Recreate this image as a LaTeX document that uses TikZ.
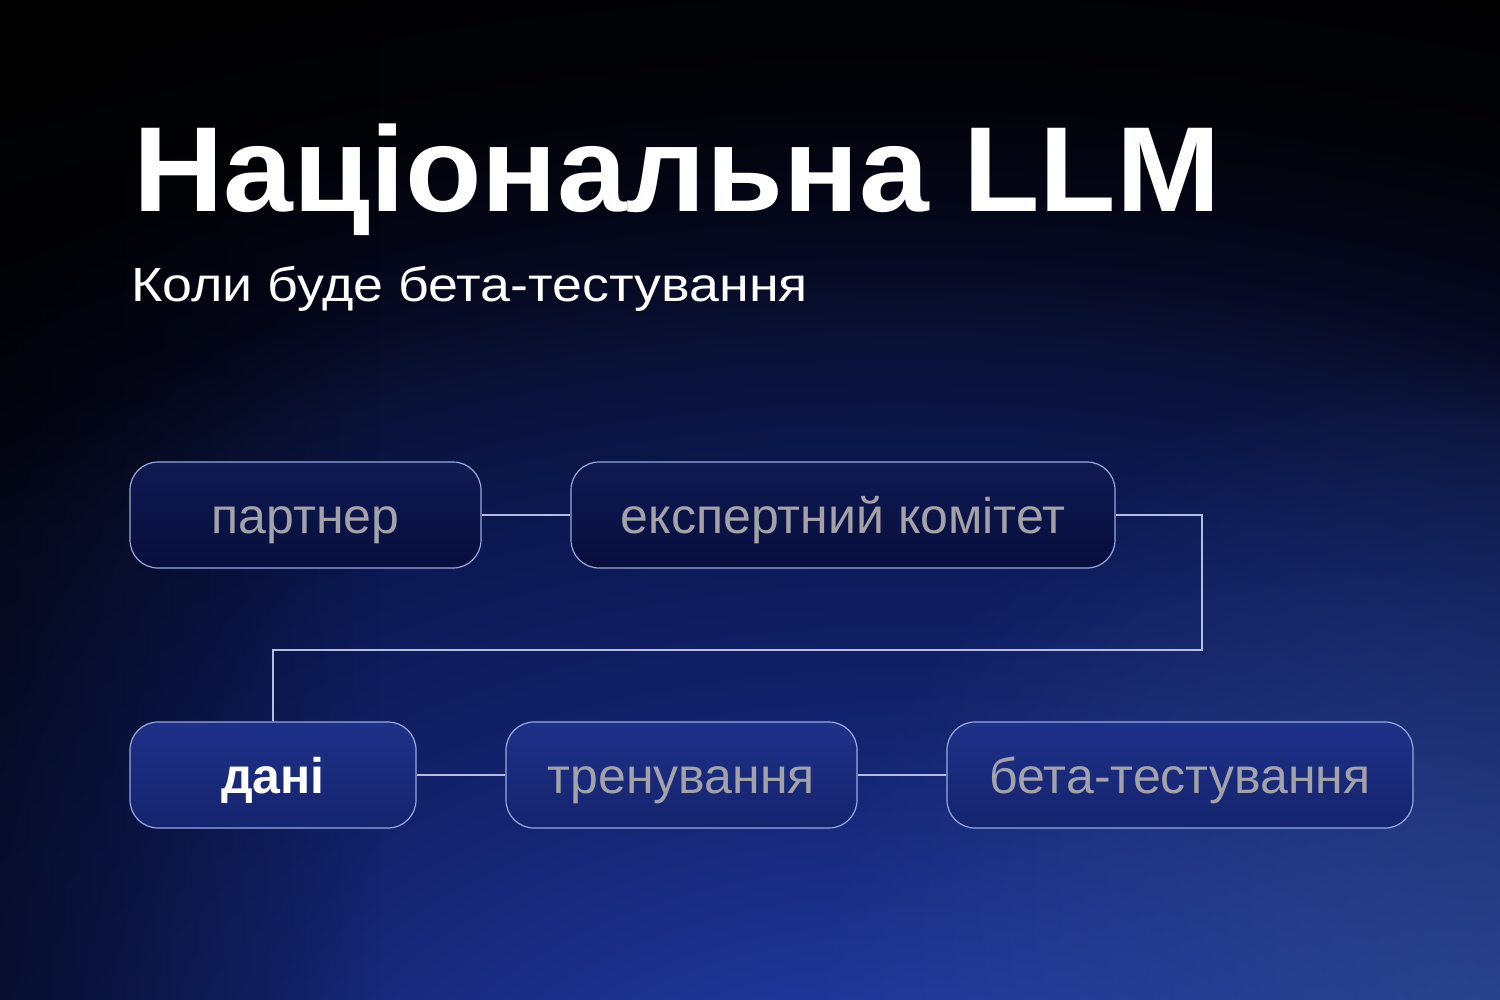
\documentclass[tikz,border=0pt]{standalone}
\usepackage{fontspec}
\setmainfont{Liberation Sans}
\newfontfamily\titlefont[FakeStretch=1.035]{Liberation Sans}
\newfontfamily\subfont[FakeStretch=1.12]{Liberation Sans}
\usetikzlibrary{fadings}
\definecolor{bgA}{HTML}{2A48A8}
\definecolor{bgB}{HTML}{1E3698}
\definecolor{bgC}{HTML}{142470}
\definecolor{bgD}{HTML}{0C1852}
\definecolor{bgE}{HTML}{0A1238}
\definecolor{bgF}{HTML}{05081E}
\definecolor{bgG}{HTML}{020308}
\definecolor{glow}{HTML}{3A5AA0}
\definecolor{boxline}{HTML}{9AA8E0}
\definecolor{linkline}{HTML}{B4BCE4}
\definecolor{boxtext}{HTML}{A2A2A8}
\definecolor{topfillA}{HTML}{101A52}
\definecolor{topfillB}{HTML}{070E3C}
\definecolor{botfillA}{HTML}{1F3088}
\definecolor{botfillB}{HTML}{14246E}
\pgfdeclareradialshading{bgshade}{\pgfpoint{0bp}{0bp}}{color(0bp)=(bgA); color(200bp)=(bgB); color(450bp)=(bgC); color(700bp)=(bgD); color(850bp)=(bgE); color(950bp)=(bgF); color(1100bp)=(bgG); color(1300bp)=(black)}
\tikzfading[name=glowfade, inner color=transparent!0, outer color=transparent!100]
\tikzfading[name=leftfade, left color=transparent!0, right color=transparent!100]
\tikzset{
  stagebox/.style={draw=boxline, line width=1.2pt, rounded corners=28pt,
    minimum height=106pt, inner sep=0pt, text height=36pt, text depth=0pt,
    text=boxtext, font=\fontsize{50}{56}\selectfont},
  topbox/.style={stagebox, top color=topfillA, bottom color=topfillB},
  botbox/.style={stagebox, top color=botfillA, bottom color=botfillB},
  link/.style={draw=linkline, line width=1.4pt}
}
\begin{document}
\begin{tikzpicture}[x=1pt,y=-1pt]
\useasboundingbox (0,0) rectangle (1500,1000);
\begin{scope}
\clip (0,0) rectangle (1500,1000);
\fill[black] (0,0) rectangle (1500,1000);
\begin{scope}[shift={(900,1200)}, xscale=1.6]
\node[inner sep=0pt, transform shape] (bgglow) at (0,0) {\pgfuseshading{bgshade}};
\end{scope}
\fill[glow, path fading=glowfade, fill opacity=0.6] (1500,1050) circle (700);
\fill[black, path fading=leftfade, fill opacity=0.5] (0,0) rectangle (380,1000);
\end{scope}

\node[anchor=base west, inner sep=0pt, text=white, font=\fontsize{121}{130}\selectfont\titlefont\bfseries] (title) at (133,212) {Національна LLM};
\node[anchor=base west, inner sep=0pt, text=white, font=\fontsize{48}{54}\selectfont\subfont] (subtitle) at (131,302) {Коли буде бета-тестування};

\node[topbox, minimum width=351pt] (partner) at (305.5,515) {партнер};
\node[topbox, minimum width=544pt] (expert) at (843,515) {експертний комітет};
\node[botbox, minimum width=286pt, text=white, font=\fontsize{50}{56}\selectfont\bfseries] (data) at (273,775) {дані};
\node[botbox, minimum width=351pt] (train) at (681.5,775) {тренування};
\node[botbox, minimum width=466pt] (beta) at (1180,775) {бета-тестування};

\coordinate (turnA) at (1202,515);
\coordinate (turnB) at (1202,650);
\coordinate (turnC) at (273,650);

\draw[link] (partner.east) -- (expert.west);
\draw[link] (expert.east) -- (turnA) -- (turnB) -- (turnC) -- (data.north);
\draw[link] (data.east) -- (train.west);
\draw[link] (train.east) -- (beta.west);
\end{tikzpicture}
\end{document}
